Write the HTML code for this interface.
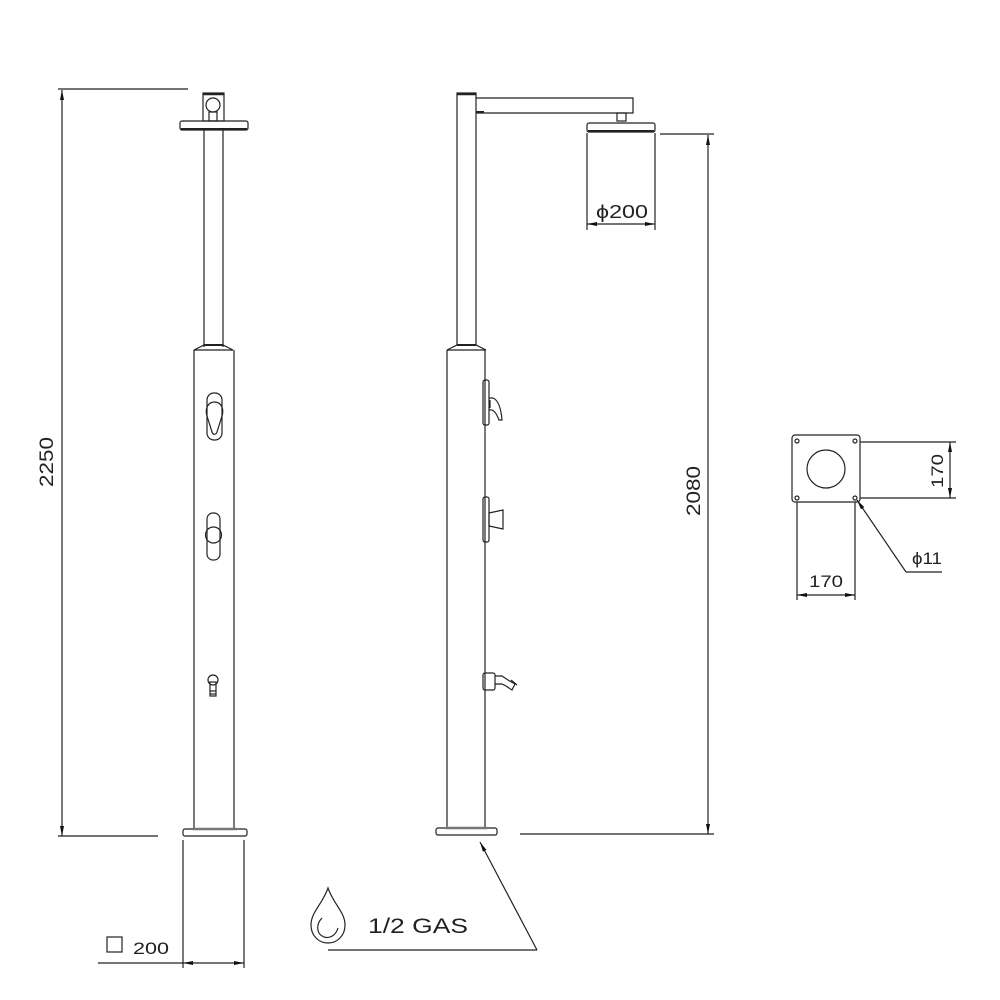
<!DOCTYPE html>
<html><head><meta charset="utf-8"><style>
html,body{margin:0;padding:0;background:#fff;}
svg{display:block}
text{font-family:"Liberation Sans","DejaVu Sans",sans-serif;fill:#222;font-weight:normal}
</style></head><body>
<svg width="1000" height="1000" viewBox="0 0 1000 1000" xmlns="http://www.w3.org/2000/svg">
<defs>
<marker id="ar" viewBox="0 0 10 4" refX="10" refY="2" markerWidth="10" markerHeight="4" markerUnits="userSpaceOnUse" orient="auto-start-reverse">
<path d="M0,0 L10,2 L0,4 Z" fill="#111"/></marker>
</defs>
<g fill="none" stroke="#222" stroke-width="1.2">
<!-- LEFT VIEW -->
<rect x="203" y="93" width="21" height="28"/>
<line x1="203" y1="94" x2="224" y2="94" stroke-width="2.5"/>
<circle cx="213" cy="105" r="7"/>
<rect x="209" y="112" width="8" height="9"/>
<rect x="180" y="121" width="68" height="9" rx="2"/>
<line x1="181" y1="129" x2="247" y2="129" stroke-width="2"/>
<line x1="204" y1="130" x2="204" y2="347"/>
<line x1="223" y1="130" x2="223" y2="347"/>
<path d="M204,345 L223,345 L233,350 L194,350 Z"/>
<line x1="204" y1="345" x2="223" y2="345" stroke-width="2"/>
<line x1="194" y1="350" x2="194" y2="829"/>
<line x1="234" y1="350" x2="234" y2="829"/>
<rect x="183" y="829" width="64" height="7" rx="2"/>
<line x1="193" y1="829" x2="237" y2="829" stroke-width="2.5" stroke="#777"/>
<!-- left controls -->
<rect x="207" y="393" width="15" height="47" rx="7"/>
<path d="M214.5,402 C222,402 224,410 222,416 L217,432 C216,435 213,435 212,432 L207,416 C205,410 207,402 214.5,402 Z"/>
<rect x="207" y="513" width="13" height="47" rx="6"/>
<circle cx="213.5" cy="535" r="8"/>
<circle cx="213" cy="680" r="5"/>
<rect x="210" y="682" width="6" height="14"/>
<line x1="210" y1="691" x2="216" y2="691"/>
<line x1="210" y1="694" x2="216" y2="694"/>
<!-- left dims -->
<line x1="58" y1="89" x2="188" y2="89"/>
<line x1="58" y1="836" x2="158" y2="836"/>
<line x1="62" y1="90" x2="62" y2="836" marker-start="url(#ar)" marker-end="url(#ar)"/>
<line x1="183" y1="840" x2="183" y2="968"/>
<line x1="244" y1="840" x2="244" y2="968"/>
<line x1="98" y1="963" x2="183" y2="963"/>
<line x1="183" y1="963" x2="244" y2="963" marker-start="url(#ar)" marker-end="url(#ar)"/>
<rect x="107" y="937" width="15" height="15"/>

<!-- RIGHT VIEW -->
<rect x="457" y="93" width="19" height="252"/>
<line x1="457" y1="94" x2="476" y2="94" stroke-width="2.5"/>
<path d="M476,98 L633,98 L633,113 L476,113"/>
<line x1="476" y1="112" x2="484" y2="112" stroke-width="2"/>
<rect x="617" y="113" width="9" height="8"/>
<rect x="587" y="123" width="68" height="9" rx="2"/>
<line x1="588" y1="131" x2="654" y2="131" stroke-width="2"/>
<path d="M457,345 L476,345 L486,350 L447,350 Z"/>
<line x1="457" y1="345" x2="476" y2="345" stroke-width="2"/>
<line x1="447" y1="350" x2="447" y2="828"/>
<line x1="485" y1="350" x2="485" y2="828"/>
<rect x="436" y="828" width="61" height="7" rx="2"/>
<line x1="446" y1="828" x2="487" y2="828" stroke-width="2.5" stroke="#777"/>
<!-- right controls -->
<rect x="483" y="380" width="6" height="45" rx="2"/>
<path d="M489,398 L493,398 C498,400 501,408 502,420 L499,420 C496,412 493,409 489,410"/>
<line x1="490" y1="400" x2="490" y2="408"/>
<rect x="483" y="497" width="6" height="45" rx="2"/>
<path d="M489,513 L503,510 L503,529 L489,526 Z"/>
<rect x="483" y="673" width="12" height="17" rx="2"/>
<path d="M495,676 L502,676 L508,680 L515,684 L512,690 L506,686 L502,684 L495,684"/>
<line x1="511" y1="680" x2="517" y2="685"/>
<!-- right dims -->
<line x1="587" y1="133" x2="587" y2="230"/>
<line x1="655" y1="133" x2="655" y2="230"/>
<line x1="587" y1="224" x2="655" y2="224" marker-start="url(#ar)" marker-end="url(#ar)"/>
<line x1="660" y1="134" x2="714" y2="134"/>
<line x1="520" y1="834" x2="714" y2="834"/>
<line x1="708" y1="135" x2="708" y2="834" marker-start="url(#ar)" marker-end="url(#ar)"/>
<!-- leader -->
<line x1="537" y1="950" x2="480" y2="842" marker-end="url(#ar)"/>
<line x1="328" y1="950" x2="537" y2="950"/>
<!-- drop -->
<path d="M328,888 C322,905 311,912 311,925 C311,936 319,943 328,943 C337,943 345,936 345,925 C345,912 334,905 328,888 Z"/>
<path d="M322,918 C316,924 316,934 324,937 C330,939 336,935 338,928"/>

<!-- PLATE -->
<rect x="792" y="435" width="68" height="67" rx="3"/>
<circle cx="826" cy="469" r="19"/>
<circle cx="797" cy="441" r="2"/>
<circle cx="855" cy="441" r="2"/>
<circle cx="797" cy="498" r="2"/>
<circle cx="855" cy="498" r="2"/>
<line x1="860" y1="442" x2="956" y2="442"/>
<line x1="860" y1="498" x2="956" y2="498"/>
<line x1="950" y1="442" x2="950" y2="498" marker-start="url(#ar)" marker-end="url(#ar)"/>
<line x1="797" y1="502" x2="797" y2="600"/>
<line x1="855" y1="502" x2="855" y2="600"/>
<line x1="797" y1="595" x2="855" y2="595" marker-start="url(#ar)" marker-end="url(#ar)"/>
<line x1="906" y1="572" x2="857" y2="500" marker-end="url(#ar)"/>
<line x1="906" y1="572" x2="942" y2="572"/>
</g>
<!-- TEXT -->
<text x="0" y="0" font-size="19" transform="translate(53,487) rotate(-90)" textLength="50" lengthAdjust="spacingAndGlyphs">2250</text>
<text x="0" y="0" font-size="19" transform="translate(700,516) rotate(-90)" textLength="50" lengthAdjust="spacingAndGlyphs">2080</text>
<text x="0" y="0" font-size="17" transform="translate(943,488) rotate(-90)" textLength="34" lengthAdjust="spacingAndGlyphs">170</text>
<text x="809" y="587" font-size="17" textLength="34" lengthAdjust="spacingAndGlyphs">170</text>
<text x="912" y="564" font-size="17" textLength="30" lengthAdjust="spacingAndGlyphs">ϕ11</text>
<text x="596" y="218" font-size="18" textLength="52" lengthAdjust="spacingAndGlyphs">ϕ200</text>
<text x="133" y="954" font-size="17" textLength="36" lengthAdjust="spacingAndGlyphs">200</text>
<text x="368" y="933" font-size="21" textLength="100" lengthAdjust="spacingAndGlyphs">1/2  GAS</text>
</svg>
</body></html>
